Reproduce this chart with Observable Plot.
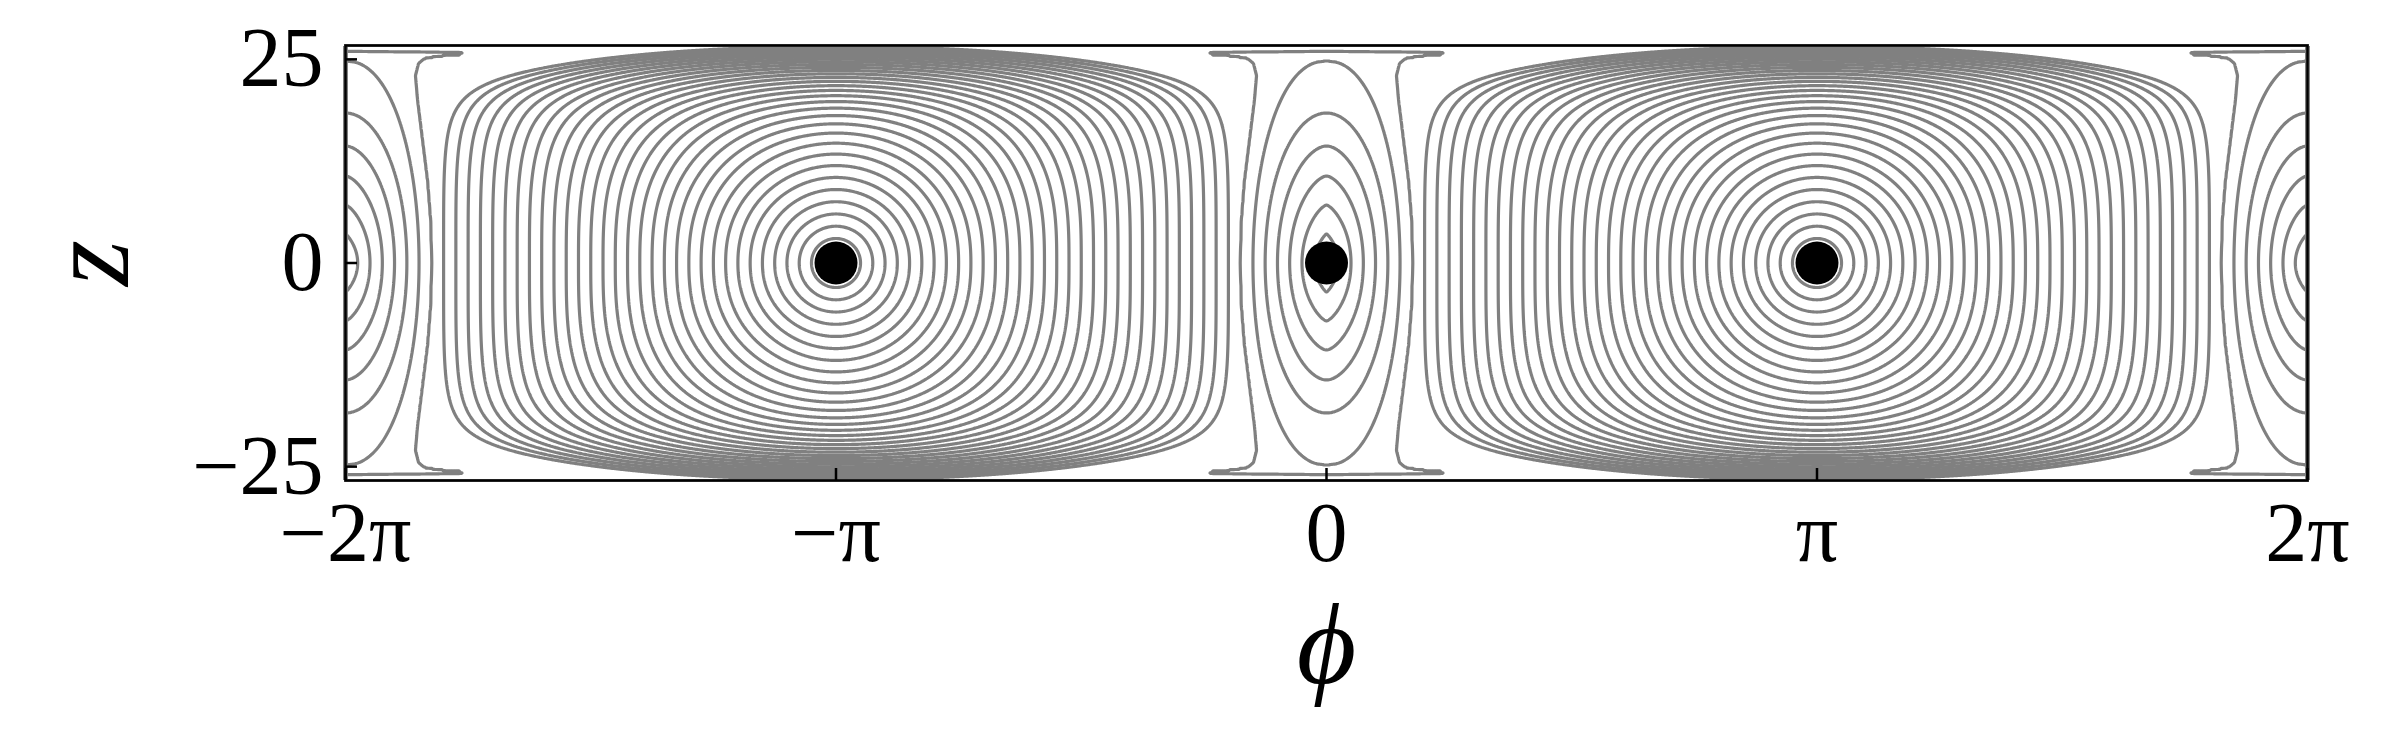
<!DOCTYPE html>
<html>
<head>
<meta charset="utf-8">
<script src="https://cdn.jsdelivr.net/npm/d3@7"></script>
<script src="https://cdn.jsdelivr.net/npm/@observablehq/plot@0.6"></script>
<style>
  html, body { margin: 0; padding: 0; background: #ffffff; }
  #chart svg { display: block; }
</style>
</head>
<body>
<div id="chart"></div>
<script>
const PI = Math.PI;

// ---- axes ----
const xTickValues = [-2 * PI, -PI, 0, PI, 2 * PI];
const xTickLabels = ["−2π", "−π", "0", "π", "2π"];
const yTickValues = [-25, 0, 25];
const yTickLabels = ["−25", "0", "25"];
const phiDomain = [-2 * PI, 2 * PI];
const zDomain = [-26.7, 26.7];
const zWall = 26.7;

// ---- fixed points drawn as black dots ----
const centerPhi = [-PI, 0, PI];
const centerZ = [0, 0, 0];

// ---- small cells (around 0 and ±2π), read ring by ring ----
// half-width of each ring at z = 0 (radians)
const zeroRingHalfWidth = [0.078, 0.157, 0.236, 0.314, 0.393, 0.471, 0.550];
// z of each ring's top
const zeroRingTopZ = [3.6, 7.12, 10.68, 14.36, 18.4, 24.8, 26.0];
// sharpness of each ring's top (1 = pointed, 2 = round); last ring uses the profile below
const zeroRingTopShape = [1.1, 1.4, 1.6, 1.8, 2.0, 2.2];
// outermost ring: z and half-width (radians), including the thin "horn" along the wall
const outerRingZ =         [0,     5,     10,    15,    20,    23,    24.5,  25.2,  25.4,  25.6,  25.72, 25.85, 26.0];
const outerRingHalfWidth = [0.551, 0.545, 0.525, 0.493, 0.461, 0.448, 0.468, 0.512, 0.609, 0.801, 0.871, 0.769, 0.0];
const zeroThresholds = [1, 2, 3, 4, 5, 6, 7];

// ---- large cells (around ±π) ----
const ringSpacingPhi = PI / 40;   // spacing of the lines along z = 0
const piRingSpacingZ = 1.505;     // spacing along φ = ±π near the centre
const piWallIndex = 32.5;         // ring index reached at the wall
const piWallSteepness = 7;
const piThresholds = d3.range(1, 33);

// ---------- small-cell field: continuous ring index ----------
function topProfile(k, u) { // rings 1..6, normalised
  if (u >= 1) return 0;
  return Math.pow(1 - u * u, 1 / zeroRingTopShape[k]);
}
const T7 = zeroRingTopZ[6], W7 = zeroRingHalfWidth[6];
function outerProfile(u) { // normalised outermost ring
  const z = u * T7;
  if (z >= T7) return 0;
  let i = 0;
  while (z > outerRingZ[i + 1]) i++;
  const f = (z - outerRingZ[i]) / (outerRingZ[i + 1] - outerRingZ[i]);
  return ((1 - f) * outerRingHalfWidth[i] + f * outerRingHalfWidth[i + 1]) / W7;
}
function prof(k, u) { return k === 6 ? outerProfile(u) : topProfile(k, u); }
function ringWidth(n, z) {
  if (n <= 1) {
    const T = n * zeroRingTopZ[0];
    if (z >= T) return 0;
    return n * zeroRingHalfWidth[0] * topProfile(0, z / T);
  }
  if (n >= 7) {
    const f = n - 7, T = T7 + 0.8 * f;
    if (z >= T) return 0;
    return W7 * (1 + 0.5 * f) * outerProfile(z / T);
  }
  const k = Math.floor(n), f = n - k;
  const T = (1 - f) * zeroRingTopZ[k - 1] + f * zeroRingTopZ[k];
  const u = z / T;
  if (u >= 1) return 0;
  return (1 - f) * zeroRingHalfWidth[k - 1] * prof(k - 1, u) + f * zeroRingHalfWidth[k] * prof(k, u);
}
function zeroField(x, y) {
  const X0 = x - 2 * PI * Math.round(x / (2 * PI));
  const ax = Math.abs(X0), z = Math.abs(y);
  if (ax > W7 * 1.7) return 9;
  if (ringWidth(8, z) < ax) return 8.5;
  let lo = 0, hi = 8;
  for (let it = 0; it < 18; it++) {
    const mid = 0.5 * (lo + hi);
    if (ringWidth(mid, z) < ax) lo = mid; else hi = mid;
  }
  return 0.5 * (lo + hi);
}

// ---------- large-cell field ----------
function piField(x, y) {
  const Xp = x - (x < 0 ? -PI : PI);
  const jx = Math.abs(Xp) / ringSpacingPhi;
  const t = Math.min(1, Math.abs(y) / zWall);
  const jy = Math.abs(y) / piRingSpacingZ +
             (piWallIndex - zWall / piRingSpacingZ) * Math.pow(t, piWallSteepness);
  const q = 2 + 2.2 * Math.pow(Math.min(jx / piWallIndex, 1), 2) *
                Math.pow(Math.max(0, 1 - jy / piWallIndex), 1.5);
  return Math.pow(Math.pow(jx, q) + Math.pow(jy, q), 1 / q);
}

const W = 2400, H = 750;
const mTop = 45, mRight = 93, mBottom = 270, mLeft = 345;
const plotW = W - mLeft - mRight, plotH = H - mTop - mBottom;
const centers = centerPhi.map((p, i) => ({phi: p, z: centerZ[i]}));
const gray = "#808080";
const lineW = 3.2;

const chart = Plot.plot({
  width: W, height: H,
  marginTop: mTop, marginRight: mRight, marginBottom: mBottom, marginLeft: mLeft,
  x: {domain: phiDomain},
  y: {domain: zDomain},
  style: {background: "#ffffff", fontFamily: "'Liberation Serif', 'DejaVu Serif', serif", color: "black"},
  marks: [
    Plot.contour({
      x1: phiDomain[0], x2: phiDomain[1], y1: zDomain[0], y2: zDomain[1],
      value: zeroField, thresholds: zeroThresholds, pixelSize: 1,
      fill: "none", stroke: gray, strokeWidth: lineW
    }),
    Plot.contour({
      x1: phiDomain[0], x2: phiDomain[1], y1: zDomain[0], y2: zDomain[1],
      value: piField, thresholds: piThresholds, pixelSize: 1,
      fill: "none", stroke: gray, strokeWidth: lineW
    }),
    Plot.dot(centers, {x: "phi", y: "z", r: 21.5, fill: "black", stroke: "none"}),
    Plot.frame({stroke: "black", strokeWidth: 2.5}),
    Plot.ruleX(xTickValues, {insetTop: plotH - 12, stroke: "black", strokeWidth: 2.5}),
    Plot.ruleY(yTickValues, {insetRight: plotW - 12, stroke: "black", strokeWidth: 2.5}),
    Plot.axisX(xTickValues, {
      tickSize: 0, tickPadding: 21, fontSize: 84, label: null,
      tickFormat: (d) => xTickLabels[xTickValues.indexOf(d)]
    }),
    Plot.axisY(yTickValues, {
      tickSize: 0, tickPadding: 22, fontSize: 84, label: null,
      tickFormat: (d) => yTickLabels[yTickValues.indexOf(d)]
    }),
    Plot.text(["z"], {
      frameAnchor: "left", dx: -255, rotate: -90, fontSize: 118, fontStyle: "italic",
      textAnchor: "middle", lineAnchor: "middle", fill: "black"
    }),
    Plot.text(["ϕ"], {
      frameAnchor: "bottom", dy: 166, fontSize: 115, fontStyle: "italic",
      textAnchor: "middle", lineAnchor: "middle", fill: "black"
    })
  ]
});
document.getElementById("chart").appendChild(chart);
</script>
</body>
</html>
